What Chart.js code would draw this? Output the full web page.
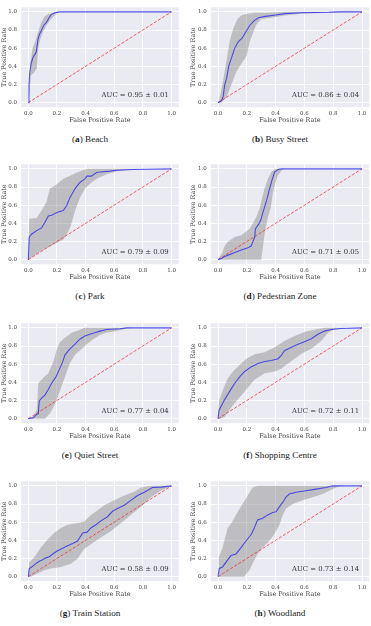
<!DOCTYPE html>
<html>
<head>
<meta charset="utf-8">
<script src="https://cdn.jsdelivr.net/npm/chart.js@4/dist/chart.umd.min.js"></script>
<style>
  body { margin: 0; background: #fff; width: 371px; height: 626px; position: relative; overflow: hidden; }
  canvas { position: absolute; }
  .cap { position: absolute; font-family: "Liberation Serif", serif; font-size: 9.2px; line-height: 11px; color: #1a1a1a; text-align: center; }
</style>
</head>
<body>
<script>
// scenes, in panel order (a)..(h)
const scenes = ['Beach', 'Busy Street', 'Park', 'Pedestrian Zone', 'Quiet Street', 'Shopping Centre', 'Train Station', 'Woodland'];
const letters = ['a', 'b', 'c', 'd', 'e', 'f', 'g', 'h'];
const aucMean = [0.95, 0.86, 0.79, 0.71, 0.77, 0.72, 0.58, 0.73];
const aucStd = [0.01, 0.04, 0.09, 0.05, 0.04, 0.11, 0.09, 0.14];
const tickVals = [0, 0.2, 0.4, 0.6, 0.8, 1.0];
const diagX = [0, 1];
const diagY = [0, 1];

// (a) Beach
const beachX = [0, 0.005, 0.01, 0.02, 0.033, 0.05, 0.056, 0.068, 0.08, 0.09, 0.107, 0.126, 0.145, 0.16, 0.184, 0.22, 1];
const beachY = [0, 0.2, 0.33, 0.43, 0.5, 0.54, 0.56, 0.7, 0.76, 0.79, 0.85, 0.88, 0.935, 0.97, 0.99, 1, 1];
const beachHiX = [0, 0.01, 0.016, 0.03, 0.05, 0.067, 0.09, 0.114, 0.14, 0.17, 0.2, 1];
const beachHiY = [0, 0.3, 0.45, 0.6, 0.68, 0.77, 0.88, 0.95, 0.975, 0.985, 1, 1];
const beachLoX = [0, 0.02, 0.04, 0.06, 0.067, 0.08, 0.1, 0.13, 0.16, 0.19, 0.22, 1];
const beachLoY = [0, 0.3, 0.33, 0.38, 0.56, 0.68, 0.77, 0.86, 0.92, 0.97, 1, 1];

// (b) Busy Street
const busyX = [0, 0.023, 0.035, 0.047, 0.06, 0.074, 0.093, 0.116, 0.14, 0.167, 0.19, 0.22, 0.25, 0.28, 0.33, 0.4, 0.465, 0.58, 0.77, 0.84, 1];
const busyY = [0, 0.02, 0.06, 0.2, 0.27, 0.4, 0.49, 0.6, 0.67, 0.71, 0.77, 0.85, 0.9, 0.935, 0.95, 0.965, 0.98, 0.99, 0.995, 1, 1];
const busyHiX = [0, 0.01, 0.035, 0.058, 0.08, 0.105, 0.135, 0.16, 0.2, 0.255, 0.33, 0.465, 1];
const busyHiY = [0, 0.04, 0.24, 0.45, 0.67, 0.81, 0.92, 0.96, 0.98, 0.99, 0.99, 1, 1];
const busyLoX = [0, 0.023, 0.058, 0.093, 0.128, 0.163, 0.2, 0.22, 0.244, 0.267, 0.3, 0.37, 0.465, 0.58, 0.77, 1];
const busyLoY = [0, 0, 0.06, 0.2, 0.34, 0.43, 0.52, 0.67, 0.77, 0.86, 0.92, 0.935, 0.96, 0.98, 0.99, 1];

// (c) Park
const parkX = [0, 0.007, 0.023, 0.058, 0.093, 0.116, 0.14, 0.163, 0.2, 0.244, 0.267, 0.29, 0.326, 0.36, 0.395, 0.41, 0.44, 0.477, 0.5, 0.57, 0.616, 0.73, 1];
const parkY = [0, 0.25, 0.28, 0.32, 0.35, 0.41, 0.48, 0.49, 0.52, 0.54, 0.59, 0.68, 0.78, 0.85, 0.89, 0.92, 0.92, 0.96, 0.965, 0.975, 0.985, 0.993, 1];
const parkHiX = [0, 0.007, 0.058, 0.093, 0.128, 0.15, 0.2, 0.244, 0.29, 0.337, 0.38, 0.42, 1];
const parkHiY = [0, 0.45, 0.46, 0.54, 0.64, 0.78, 0.83, 0.89, 0.92, 0.96, 0.985, 1, 1];
const parkLoX = [0, 0.035, 0.105, 0.174, 0.244, 0.28, 0.3, 0.326, 0.36, 0.395, 0.44, 0.488, 0.547, 0.616, 0.686, 0.78, 1];
const parkLoY = [0, 0.04, 0.11, 0.165, 0.22, 0.31, 0.39, 0.535, 0.68, 0.78, 0.85, 0.9, 0.94, 0.97, 0.985, 1, 1];

// (d) Pedestrian Zone
const pedX = [0, 0.023, 0.046, 0.07, 0.116, 0.162, 0.208, 0.23, 0.243, 0.255, 0.26, 0.278, 0.296, 0.312, 0.336, 0.36, 0.375, 0.393, 0.417, 0.44, 1];
const pedY = [0, 0.014, 0.035, 0.05, 0.078, 0.106, 0.13, 0.15, 0.2, 0.25, 0.34, 0.38, 0.43, 0.52, 0.645, 0.79, 0.876, 0.965, 0.993, 1, 1];
const pedHiX = [0, 0.03, 0.046, 0.07, 0.116, 0.162, 0.22, 0.266, 0.29, 0.306, 0.324, 0.347, 0.37, 0.393, 0.417, 1];
const pedHiY = [0, 0.08, 0.15, 0.2, 0.25, 0.27, 0.34, 0.47, 0.57, 0.68, 0.79, 0.89, 0.965, 0.993, 1, 1];
const pedLoX = [0, 0.3, 0.312, 0.324, 0.347, 0.366, 0.38, 0.398, 0.417, 0.44, 0.463, 1];
const pedLoY = [0, 0, 0.13, 0.29, 0.47, 0.57, 0.72, 0.84, 0.93, 0.98, 1, 1];

// (e) Quiet Street
const quietX = [0, 0.035, 0.058, 0.07, 0.077, 0.093, 0.116, 0.14, 0.163, 0.193, 0.216, 0.24, 0.256, 0.28, 0.302, 0.326, 0.36, 0.395, 0.43, 0.465, 0.5, 0.547, 0.64, 0.686, 1];
const quietY = [0, 0.01, 0.046, 0.054, 0.196, 0.225, 0.26, 0.32, 0.39, 0.46, 0.54, 0.625, 0.7, 0.75, 0.786, 0.82, 0.875, 0.91, 0.93, 0.946, 0.964, 0.982, 0.99, 1, 1];
const quietHiX = [0, 0.035, 0.06, 0.07, 0.105, 0.14, 0.174, 0.2, 0.22, 0.256, 0.302, 0.36, 0.395, 1];
const quietHiY = [0, 0.02, 0.1, 0.39, 0.45, 0.5, 0.625, 0.77, 0.84, 0.89, 0.946, 0.98, 1, 1];
const quietLoX = [0, 0.116, 0.15, 0.186, 0.22, 0.256, 0.29, 0.326, 0.36, 0.407, 0.453, 0.5, 0.547, 0.616, 0.686, 0.73, 1];
const quietLoY = [0, 0, 0.054, 0.16, 0.3, 0.46, 0.61, 0.7, 0.75, 0.82, 0.875, 0.92, 0.946, 0.964, 0.99, 1, 1];

// (f) Shopping Centre
const shopX = [0, 0.007, 0.023, 0.046, 0.081, 0.116, 0.15, 0.185, 0.23, 0.278, 0.324, 0.37, 0.417, 0.44, 0.463, 0.51, 0.556, 0.6, 0.648, 0.694, 0.74, 0.787, 0.856, 1];
const shopY = [0, 0.09, 0.14, 0.21, 0.3, 0.39, 0.46, 0.52, 0.57, 0.607, 0.63, 0.64, 0.66, 0.696, 0.75, 0.786, 0.82, 0.846, 0.88, 0.93, 0.964, 0.982, 0.993, 1];
const shopHiX = [0, 0.007, 0.035, 0.07, 0.104, 0.15, 0.197, 0.255, 0.324, 0.394, 0.463, 0.532, 0.6, 0.671, 0.74, 1];
const shopHiY = [0, 0.2, 0.32, 0.45, 0.52, 0.59, 0.66, 0.71, 0.73, 0.786, 0.857, 0.91, 0.954, 0.982, 1, 1];
const shopLoX = [0, 0.012, 0.046, 0.093, 0.139, 0.185, 0.255, 0.324, 0.394, 0.44, 0.486, 0.532, 0.579, 0.648, 0.718, 0.764, 0.81, 0.88, 1];
const shopLoY = [0, 0, 0.018, 0.125, 0.214, 0.3, 0.43, 0.5, 0.52, 0.55, 0.607, 0.66, 0.714, 0.77, 0.857, 0.946, 0.982, 1, 1];

// (g) Train Station
const trainX = [0, 0.007, 0.03, 0.053, 0.077, 0.1, 0.123, 0.147, 0.17, 0.205, 0.24, 0.274, 0.31, 0.344, 0.38, 0.41, 0.437, 0.472, 0.507, 0.553, 0.588, 0.623, 0.67, 0.716, 0.763, 0.81, 0.867, 0.926, 1];
const trainY = [0, 0.09, 0.114, 0.143, 0.17, 0.186, 0.207, 0.22, 0.25, 0.286, 0.314, 0.34, 0.364, 0.393, 0.482, 0.49, 0.536, 0.571, 0.614, 0.66, 0.72, 0.75, 0.786, 0.84, 0.893, 0.93, 0.982, 0.986, 1];
const trainHiX = [0, 0.007, 0.042, 0.088, 0.135, 0.18, 0.228, 0.274, 0.344, 0.39, 0.437, 0.484, 0.53, 0.6, 0.67, 0.74, 0.786, 0.856, 1];
const trainHiY = [0, 0.16, 0.214, 0.32, 0.41, 0.48, 0.536, 0.571, 0.59, 0.607, 0.68, 0.73, 0.786, 0.84, 0.893, 0.936, 0.982, 1, 1];
const trainLoX = [0, 0.019, 0.065, 0.112, 0.158, 0.228, 0.298, 0.344, 0.39, 0.437, 0.507, 0.577, 0.647, 0.716, 0.786, 0.856, 0.926, 1];
const trainLoY = [0, 0, 0.036, 0.07, 0.09, 0.107, 0.143, 0.196, 0.304, 0.357, 0.43, 0.5, 0.59, 0.68, 0.77, 0.875, 0.946, 1];

// (h) Woodland
const woodX = [0, 0.009, 0.032, 0.056, 0.09, 0.125, 0.16, 0.194, 0.23, 0.252, 0.275, 0.31, 0.345, 0.38, 0.403, 0.426, 0.45, 0.472, 0.495, 0.542, 0.611, 0.68, 0.75, 0.796, 1];
const woodY = [0, 0.09, 0.107, 0.16, 0.232, 0.25, 0.32, 0.393, 0.464, 0.536, 0.625, 0.643, 0.68, 0.707, 0.714, 0.768, 0.82, 0.875, 0.91, 0.93, 0.946, 0.964, 0.982, 1, 1];
const woodHiX = [0, 0.005, 0.032, 0.067, 0.1, 0.137, 0.171, 0.206, 0.24, 0.275, 1];
const woodHiY = [0, 0.21, 0.32, 0.536, 0.607, 0.714, 0.8, 0.893, 0.982, 1, 1];
const woodLoX = [0, 0.18, 0.218, 0.24, 0.275, 0.31, 0.356, 0.39, 0.426, 0.45, 0.472, 0.52, 0.588, 0.657, 0.727, 0.773, 0.82, 0.866, 1];
const woodLoY = [0, 0, 0.07, 0.143, 0.25, 0.32, 0.393, 0.464, 0.57, 0.68, 0.75, 0.8, 0.84, 0.875, 0.91, 0.946, 0.982, 1, 1];

const curves = [
  [beachX, beachY, beachHiX, beachHiY, beachLoX, beachLoY],
  [busyX, busyY, busyHiX, busyHiY, busyLoX, busyLoY],
  [parkX, parkY, parkHiX, parkHiY, parkLoX, parkLoY],
  [pedX, pedY, pedHiX, pedHiY, pedLoX, pedLoY],
  [quietX, quietY, quietHiX, quietHiY, quietLoX, quietLoY],
  [shopX, shopY, shopHiX, shopHiY, shopLoX, shopLoY],
  [trainX, trainY, trainHiX, trainHiY, trainLoX, trainLoY],
  [woodX, woodY, woodHiX, woodHiY, woodLoX, woodLoY]
];

// layout of the 4x2 grid
const colLeft = [0, 185];
const colWidth = [185, 186];
const yAxisW = [21.1, 25.8];
const padRight = [6.3, 1.8];
const yTitlePad = [0.2, 5];
const rowTop = [0, 157, 316, 474.3];

const pts = (xs, ys) => xs.map((x, i) => ({ x: x, y: ys[i] }));

const plotBg = {
  id: 'plotBg',
  beforeDraw(chart) {
    const a = chart.chartArea, c = chart.ctx;
    c.save();
    c.fillStyle = '#EAEAF2';
    c.fillRect(a.left, a.top, a.right - a.left, a.bottom - a.top);
    c.restore();
  }
};

const aucLabel = {
  id: 'aucLabel',
  afterDatasetsDraw(chart, args, opts) {
    const c = chart.ctx;
    c.save();
    c.font = '6.9px "DejaVu Serif"';
    c.fillStyle = '#333';
    c.textAlign = 'right';
    c.textBaseline = 'middle';
    c.fillText(opts.text, chart.scales.x.getPixelForValue(0.98), chart.scales.y.getPixelForValue(0.078));
    c.restore();
  }
};

const tickFont = { family: 'DejaVu Serif', size: 5.5 };
const titleFont = { family: 'DejaVu Serif', size: 6.4 };

scenes.forEach((name, i) => {
  const col = i % 2, row = Math.floor(i / 2);
  const [mx, my, hx, hy, lx, ly] = curves[i];

  const cv = document.createElement('canvas');
  cv.width = colWidth[col];
  cv.height = 125;
  cv.style.left = colLeft[col] + 'px';
  cv.style.top = rowTop[row] + 'px';
  document.body.appendChild(cv);

  const cap = document.createElement('div');
  cap.className = 'cap';
  cap.style.left = colLeft[col] + 'px';
  cap.style.width = (col === 0 ? 180 : 190) + 'px';
  cap.style.top = (rowTop[row] + 134) + 'px';
  cap.innerHTML = '(<b>' + letters[i] + '</b>) ' + name;
  document.body.appendChild(cap);

  const band = pts(hx, hy).concat(pts(lx, ly).reverse());

  new Chart(cv, {
    type: 'line',
    data: {
      datasets: [
        {
          data: pts(mx, my),
          borderColor: 'rgba(40,40,235,0.78)',
          borderWidth: 1.1,
          pointRadius: 0,
          fill: false,
          order: 1
        },
        {
          data: pts(diagX, diagY),
          borderColor: 'rgba(235,40,40,0.8)',
          borderWidth: 0.9,
          borderDash: [3.2, 1.6],
          pointRadius: 0,
          fill: false,
          order: 2
        },
        {
          data: band,
          borderColor: 'transparent',
          borderWidth: 0,
          backgroundColor: 'rgba(128,128,128,0.42)',
          pointRadius: 0,
          fill: 'shape',
          order: 3
        }
      ]
    },
    options: {
      responsive: false,
      animation: false,
      devicePixelRatio: 1,
      layout: { padding: { top: 4.3, right: padRight[col], left: 0, bottom: 0 } },
      plugins: {
        legend: { display: false },
        tooltip: { enabled: false },
        aucLabel: { text: 'AUC = ' + aucMean[i].toFixed(2) + ' ± ' + aucStd[i].toFixed(2) }
      },
      scales: {
        x: {
          type: 'linear',
          min: -0.05,
          max: 1.05,
          afterBuildTicks: s => { s.ticks = tickVals.map(v => ({ value: v })); },
          afterFit: s => { s.height = 17.8; },
          border: { display: false },
          grid: { color: '#ffffff', lineWidth: 0.9, drawTicks: false },
          ticks: { font: tickFont, color: '#444', padding: 3, maxRotation: 0, autoSkip: false, callback: v => v.toFixed(1) },
          title: { display: true, text: 'False Positive Rate', font: titleFont, color: '#444', padding: { top: 0, bottom: 1.1 } }
        },
        y: {
          type: 'linear',
          min: -0.05,
          max: 1.05,
          afterBuildTicks: s => { s.ticks = tickVals.map(v => ({ value: v })); },
          afterFit: s => { s.width = yAxisW[col]; },
          border: { display: false },
          grid: { color: '#ffffff', lineWidth: 0.9, drawTicks: false },
          ticks: { font: tickFont, color: '#444', padding: 4, autoSkip: false, callback: v => v.toFixed(1) },
          title: { display: true, text: 'True Positive Rate', font: titleFont, color: '#444', padding: { top: yTitlePad[col], bottom: 0 } }
        }
      }
    },
    plugins: [plotBg, aucLabel]
  });
});
</script>
</body>
</html>
